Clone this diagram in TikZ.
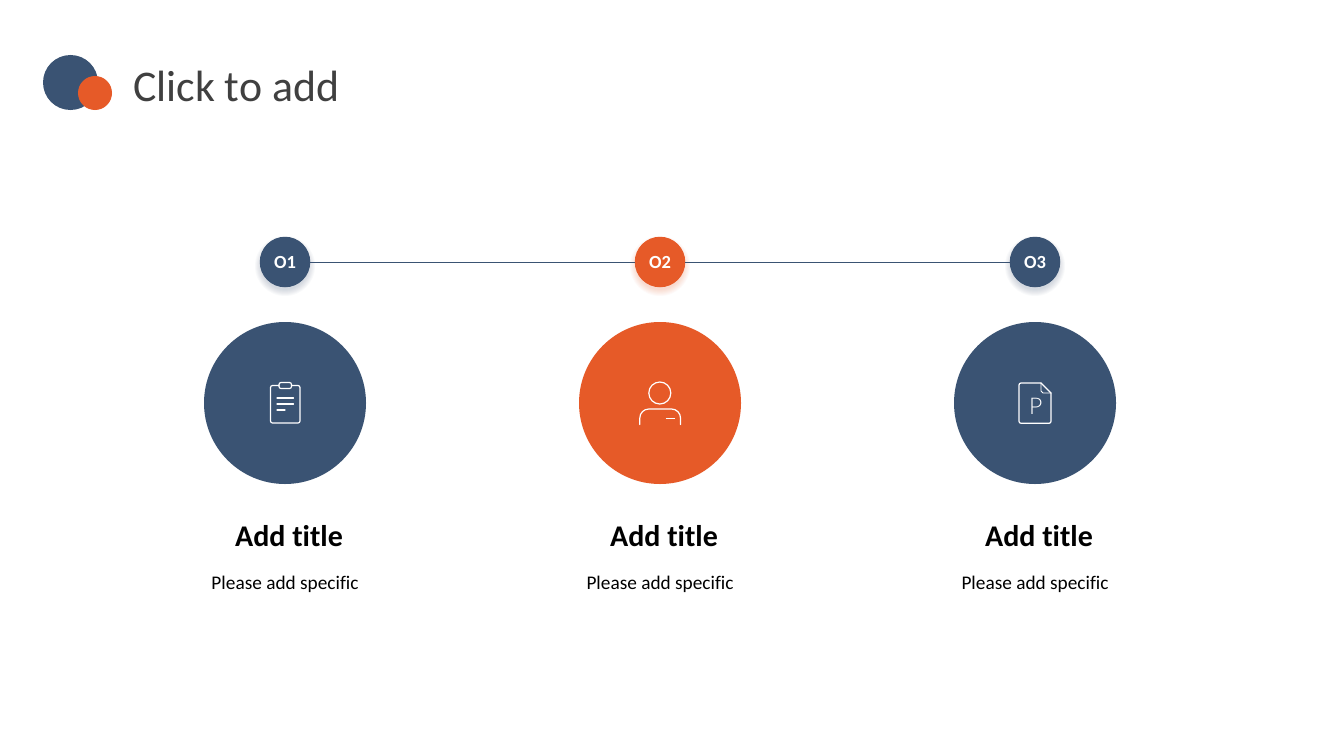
\documentclass[tikz,border=0pt]{standalone}
\usepackage{fontspec}
\setmainfont[Ligatures=NoCommon]{Carlito}
\newfontfamily\glyphfont{Lato Light}
\definecolor{navy}{HTML}{3A5373}
\definecolor{flame}{HTML}{E65A28}
\definecolor{titlegrey}{HTML}{404040}
\newcommand{\softshadow}[4]{%
  \foreach \k in {0,...,6}{
    \fill[#4,opacity=0.03] (#1,#2+4) circle ({#3+5-\k});
  }}
\tikzset{
  x=1bp,y=-1bp,
  disc/.style={circle,inner sep=0pt,minimum size=#1},
  badge/.style={disc=50.5bp,text=white,font=\bfseries\fontsize{18.5bp}{22bp}\selectfont},
  bigdisc/.style={disc=162bp},
  link/.style={navy,line width=0.9bp},
  icon/.style={draw=white,line width=1.2bp,line cap=round,line join=round},
  headline/.style={font=\bfseries\fontsize{30bp}{35bp}\selectfont,text=black},
  subline/.style={font=\fontsize{19.3bp}{23bp}\selectfont,text=black},
}
\begin{document}
\begin{tikzpicture}
\useasboundingbox (0,0) rectangle (1320,743);
\fill[white] (0,0) rectangle (1320,743);
% logo
\node[disc=55bp,fill=navy] (logoA) at (70.5,82.5) {};
\node[disc=34bp,fill=flame] (logoB) at (95,93) {};
\node[anchor=west,inner sep=0pt,text=titlegrey,font=\fontsize{43.8bp}{50bp}\selectfont] (head) at (133,86) {Click to add};
% shadows
\softshadow{285}{262}{25}{navy}
\softshadow{660}{262}{25}{flame}
\softshadow{1035}{262}{25}{navy}
% badges
\node[badge,fill=navy] (o1) at (285,262) {O1};
\node[badge,fill=flame] (o2) at (660,262) {O2};
\node[badge,fill=navy] (o3) at (1035,262) {O3};
\draw[link] (o1) -- (o2);
\draw[link] (o2) -- (o3);
% big discs
\node[bigdisc,fill=navy] (c1) at (285,403) {};
\node[bigdisc,fill=flame] (c2) at (660,403) {};
\node[bigdisc,fill=navy] (c3) at (1035,403) {};
% clipboard icon
\draw[icon,rounded corners=2bp] (279,385.5) -- (270.5,385.5) -- (270.5,423) -- (300,423) -- (300,385.5) -- (291.5,385.5);
\draw[icon,rounded corners=2bp] (279,382.5) rectangle (291.5,388.5);
\draw[icon] (277,398) -- (293.5,398) (277,404) -- (293.5,404) (277,410) -- (285,410);
% person icon
\draw[icon] (659.8,393) circle (11);
\draw[icon] (639.8,424.5) -- (639.8,418) arc[start angle=180,end angle=270,radius=9] -- (671.5,409) arc[start angle=270,end angle=360,radius=9] -- (680.5,424.5);
\draw[icon] (666.5,418.5) -- (674.5,418.5);
% document icon
\draw[icon,rounded corners=2bp] (1041,383) -- (1019,383) -- (1019,423.3) -- (1051,423.3) -- (1051,393);
\draw[icon] (1041,383) -- (1051,393);
\draw[icon,line width=0.9bp] (1041,383) -- (1041,391) -- (1043,393) -- (1051,393);
\node[text=white,inner sep=0pt,font=\glyphfont\fontsize{23bp}{28bp}\selectfont] (pglyph) at (1035.8,406) {P};
% texts
\foreach \n/\x in {1/285,2/660,3/1035}{
  \node[headline] (t\n) at (\x+4,536.5) {Add title};
  \node[subline] (s\n) at (\x,584.5) {Please add specific};
}
\end{tikzpicture}
\end{document}
